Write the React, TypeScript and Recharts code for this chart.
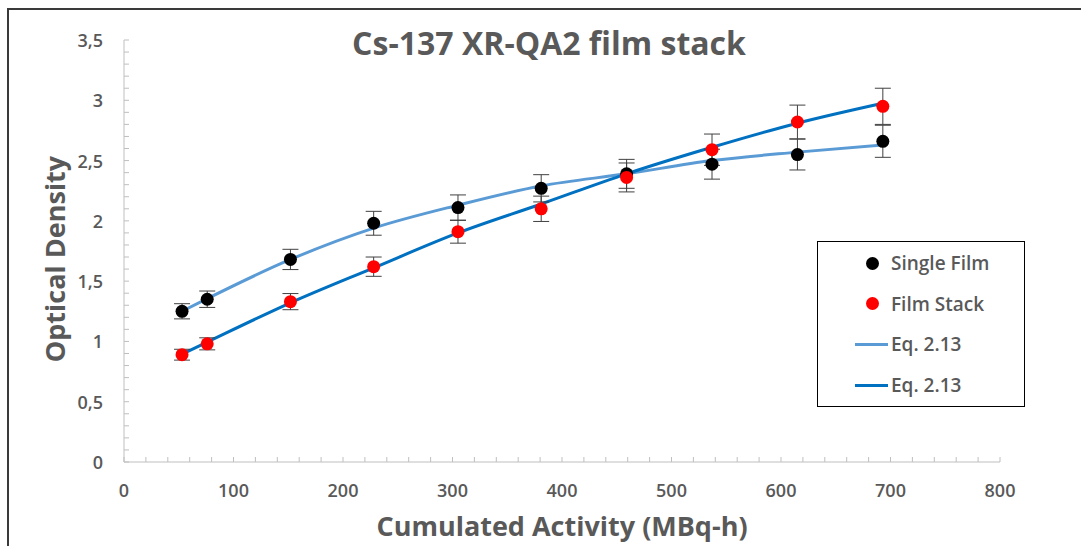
import { ComposedChart, Line, Scatter, XAxis, YAxis, ErrorBar, Legend } from "recharts";

// cumulated activity (MBq-h) of each measurement
const activity = [53, 76, 152, 228, 305, 381, 459, 537, 615, 693];

// optical density, single film, with error
const singleFilm = [1.25, 1.35, 1.68, 1.98, 2.11, 2.27, 2.39, 2.47, 2.55, 2.66];
const singleErr = [0.063, 0.068, 0.084, 0.099, 0.105, 0.113, 0.12, 0.124, 0.128, 0.133];

// optical density, film stack, with error
const filmStack = [0.89, 0.98, 1.33, 1.62, 1.91, 2.1, 2.36, 2.59, 2.82, 2.95];
const stackErr = [0.045, 0.05, 0.067, 0.08, 0.095, 0.105, 0.12, 0.13, 0.14, 0.15];

// Eq. 2.13 fit curves at the same activities
const singleFit = [1.25, 1.355, 1.68, 1.94, 2.13, 2.29, 2.39, 2.5, 2.57, 2.63];
const stackFit = [0.895, 0.995, 1.32, 1.61, 1.9, 2.14, 2.39, 2.61, 2.81, 2.975];

const xLabels = [0, 100, 200, 300, 400, 500, 600, 700, 800];
const yLabels = [0, 0.5, 1, 1.5, 2, 2.5, 3, 3.5];

// minor tick marks (every 20 on x, every 0.1 on y)
const xTicks = Array.from({ length: 41 }, (_, i) => i * 20);
const yTicks = Array.from({ length: 36 }, (_, i) => i / 10);

const singleData = activity.map((x, i) => ({ x, y: singleFilm[i], err: singleErr[i] }));
const stackData = activity.map((x, i) => ({ x, y: filmStack[i], err: stackErr[i] }));
const singleFitData = activity.map((x, i) => ({ x, fit: singleFit[i] }));
const stackFitData = activity.map((x, i) => ({ x, fit: stackFit[i] }));

const FONT = "'Open Sans', sans-serif";
const TEXT = "#595959";
const AXIS = "#bfbfbf";
const LIGHT = "#5b9bd5";
const DARK = "#0070c0";

const legendItems = [
  { label: "Single Film", kind: "dot", color: "#000000" },
  { label: "Film Stack", kind: "dot", color: "#ff0000" },
  { label: "Eq. 2.13", kind: "line", color: LIGHT },
  { label: "Eq. 2.13", kind: "line", color: DARK },
];

const XTick = (props: any) => {
  const { x, y, payload } = props;
  const major = xLabels.includes(payload.value);
  return (
    <g>
      <line x1={x} x2={x} y1={y} y2={y - 5} stroke={AXIS} />
      {major && (
        <text x={x} y={y + 28} textAnchor="middle" dominantBaseline="central"
          fill={TEXT} fontFamily={FONT} fontWeight={600} fontSize={18}>
          {payload.value}
        </text>
      )}
    </g>
  );
};

const YTick = (props: any) => {
  const { x, y, payload } = props;
  const major = yLabels.some((v) => Math.abs(v - payload.value) < 1e-6);
  return (
    <g>
      <line x1={x} x2={x + 5} y1={y} y2={y} stroke={AXIS} />
      {major && (
        <text x={x - 21} y={y} textAnchor="end" dominantBaseline="central"
          fill={TEXT} fontFamily={FONT} fontWeight={600} fontSize={18}>
          {String(payload.value).replace(".", ",")}
        </text>
      )}
    </g>
  );
};

const XTitle = ({ viewBox }: any) => (
  <text x={viewBox.x + viewBox.width / 2} y={viewBox.y + 63} textAnchor="middle"
    dominantBaseline="central" fill={TEXT} fontFamily={FONT} fontWeight={700} fontSize={27}>
    Cumulated Activity (MBq-h)
  </text>
);

const YTitle = ({ viewBox }: any) => {
  const cx = viewBox.x + 30;
  const cy = viewBox.y + viewBox.height / 2 + 8;
  return (
    <text x={cx} y={cy} textAnchor="middle" dominantBaseline="central"
      transform={`rotate(-90 ${cx} ${cy})`} fill={TEXT} fontFamily={FONT} fontWeight={700} fontSize={27}>
      Optical Density
    </text>
  );
};

const LegendBox = () => (
  <div style={{ width: 206, height: 163, border: "1px solid #000", background: "#fff", paddingTop: 1, boxSizing: "content-box" }}>
    {legendItems.map((item, i) => (
      <div key={i} style={{ height: 40.6, display: "flex", alignItems: "center", position: "relative" }}>
        {item.kind === "dot" ? (
          <span style={{ position: "absolute", left: 48, width: 13, height: 13, borderRadius: "50%", background: item.color }} />
        ) : (
          <span style={{ position: "absolute", left: 37, width: 33, height: 3, background: item.color }} />
        )}
        <span style={{ position: "absolute", left: 73, fontFamily: FONT, fontWeight: 600, fontSize: 19, color: TEXT }}>
          {item.label}
        </span>
      </div>
    ))}
  </div>
);

const Dot = (color: string, r: number) => (p: any) => <circle cx={p.cx} cy={p.cy} r={r} fill={color} />;

export default function App() {
  return (
    <div style={{ position: "absolute", left: 0, top: 0, width: 1081, height: 546, overflow: "hidden", background: "#fff" }}>
      <div style={{ position: "absolute", left: 7, top: 8, right: -10, bottom: -10, borderLeft: "2px solid #3a3a3a", borderTop: "2px solid #3a3a3a" }} />
      <div style={{ position: "absolute", left: 0, width: 1098, top: 21, textAlign: "center", fontFamily: FONT, fontWeight: 700, fontSize: 32, color: TEXT }}>
        Cs-137 XR-QA2 film stack
      </div>
      <ComposedChart width={1081} height={546} margin={{ top: 40, right: 81, bottom: 44, left: 24 }}>
        <XAxis type="number" dataKey="x" domain={[0, 800]} ticks={xTicks} interval={0}
          stroke={AXIS} tickSize={0} tickMargin={0} tick={<XTick />} height={40}
          allowDataOverflow label={<XTitle />} />
        <YAxis type="number" domain={[0, 3.5]} ticks={yTicks} interval={0}
          stroke={AXIS} tickSize={0} tickMargin={0} tick={<YTick />} width={100}
          allowDataOverflow label={<YTitle />} />
        <Legend content={<LegendBox />} layout="horizontal" verticalAlign="middle" align="center"
          wrapperStyle={{ position: "absolute", left: 817, top: 241, width: "auto" }} />
        <Line data={singleFitData} dataKey="fit" type="monotone" stroke={LIGHT} strokeWidth={3}
          dot={false} activeDot={false} isAnimationActive={false} />
        <Line data={stackFitData} dataKey="fit" type="monotone" stroke={DARK} strokeWidth={3}
          dot={false} activeDot={false} isAnimationActive={false} />
        <Scatter data={singleData} dataKey="y" shape={Dot("#000000", 6.5)} isAnimationActive={false}>
          <ErrorBar dataKey="err" direction="y" width={8} stroke="#404040" strokeWidth={1} />
        </Scatter>
        <Scatter data={stackData} dataKey="y" shape={Dot("#ff0000", 6.5)} isAnimationActive={false}>
          <ErrorBar dataKey="err" direction="y" width={8} stroke="#404040" strokeWidth={1} />
        </Scatter>
      </ComposedChart>
    </div>
  );
}
